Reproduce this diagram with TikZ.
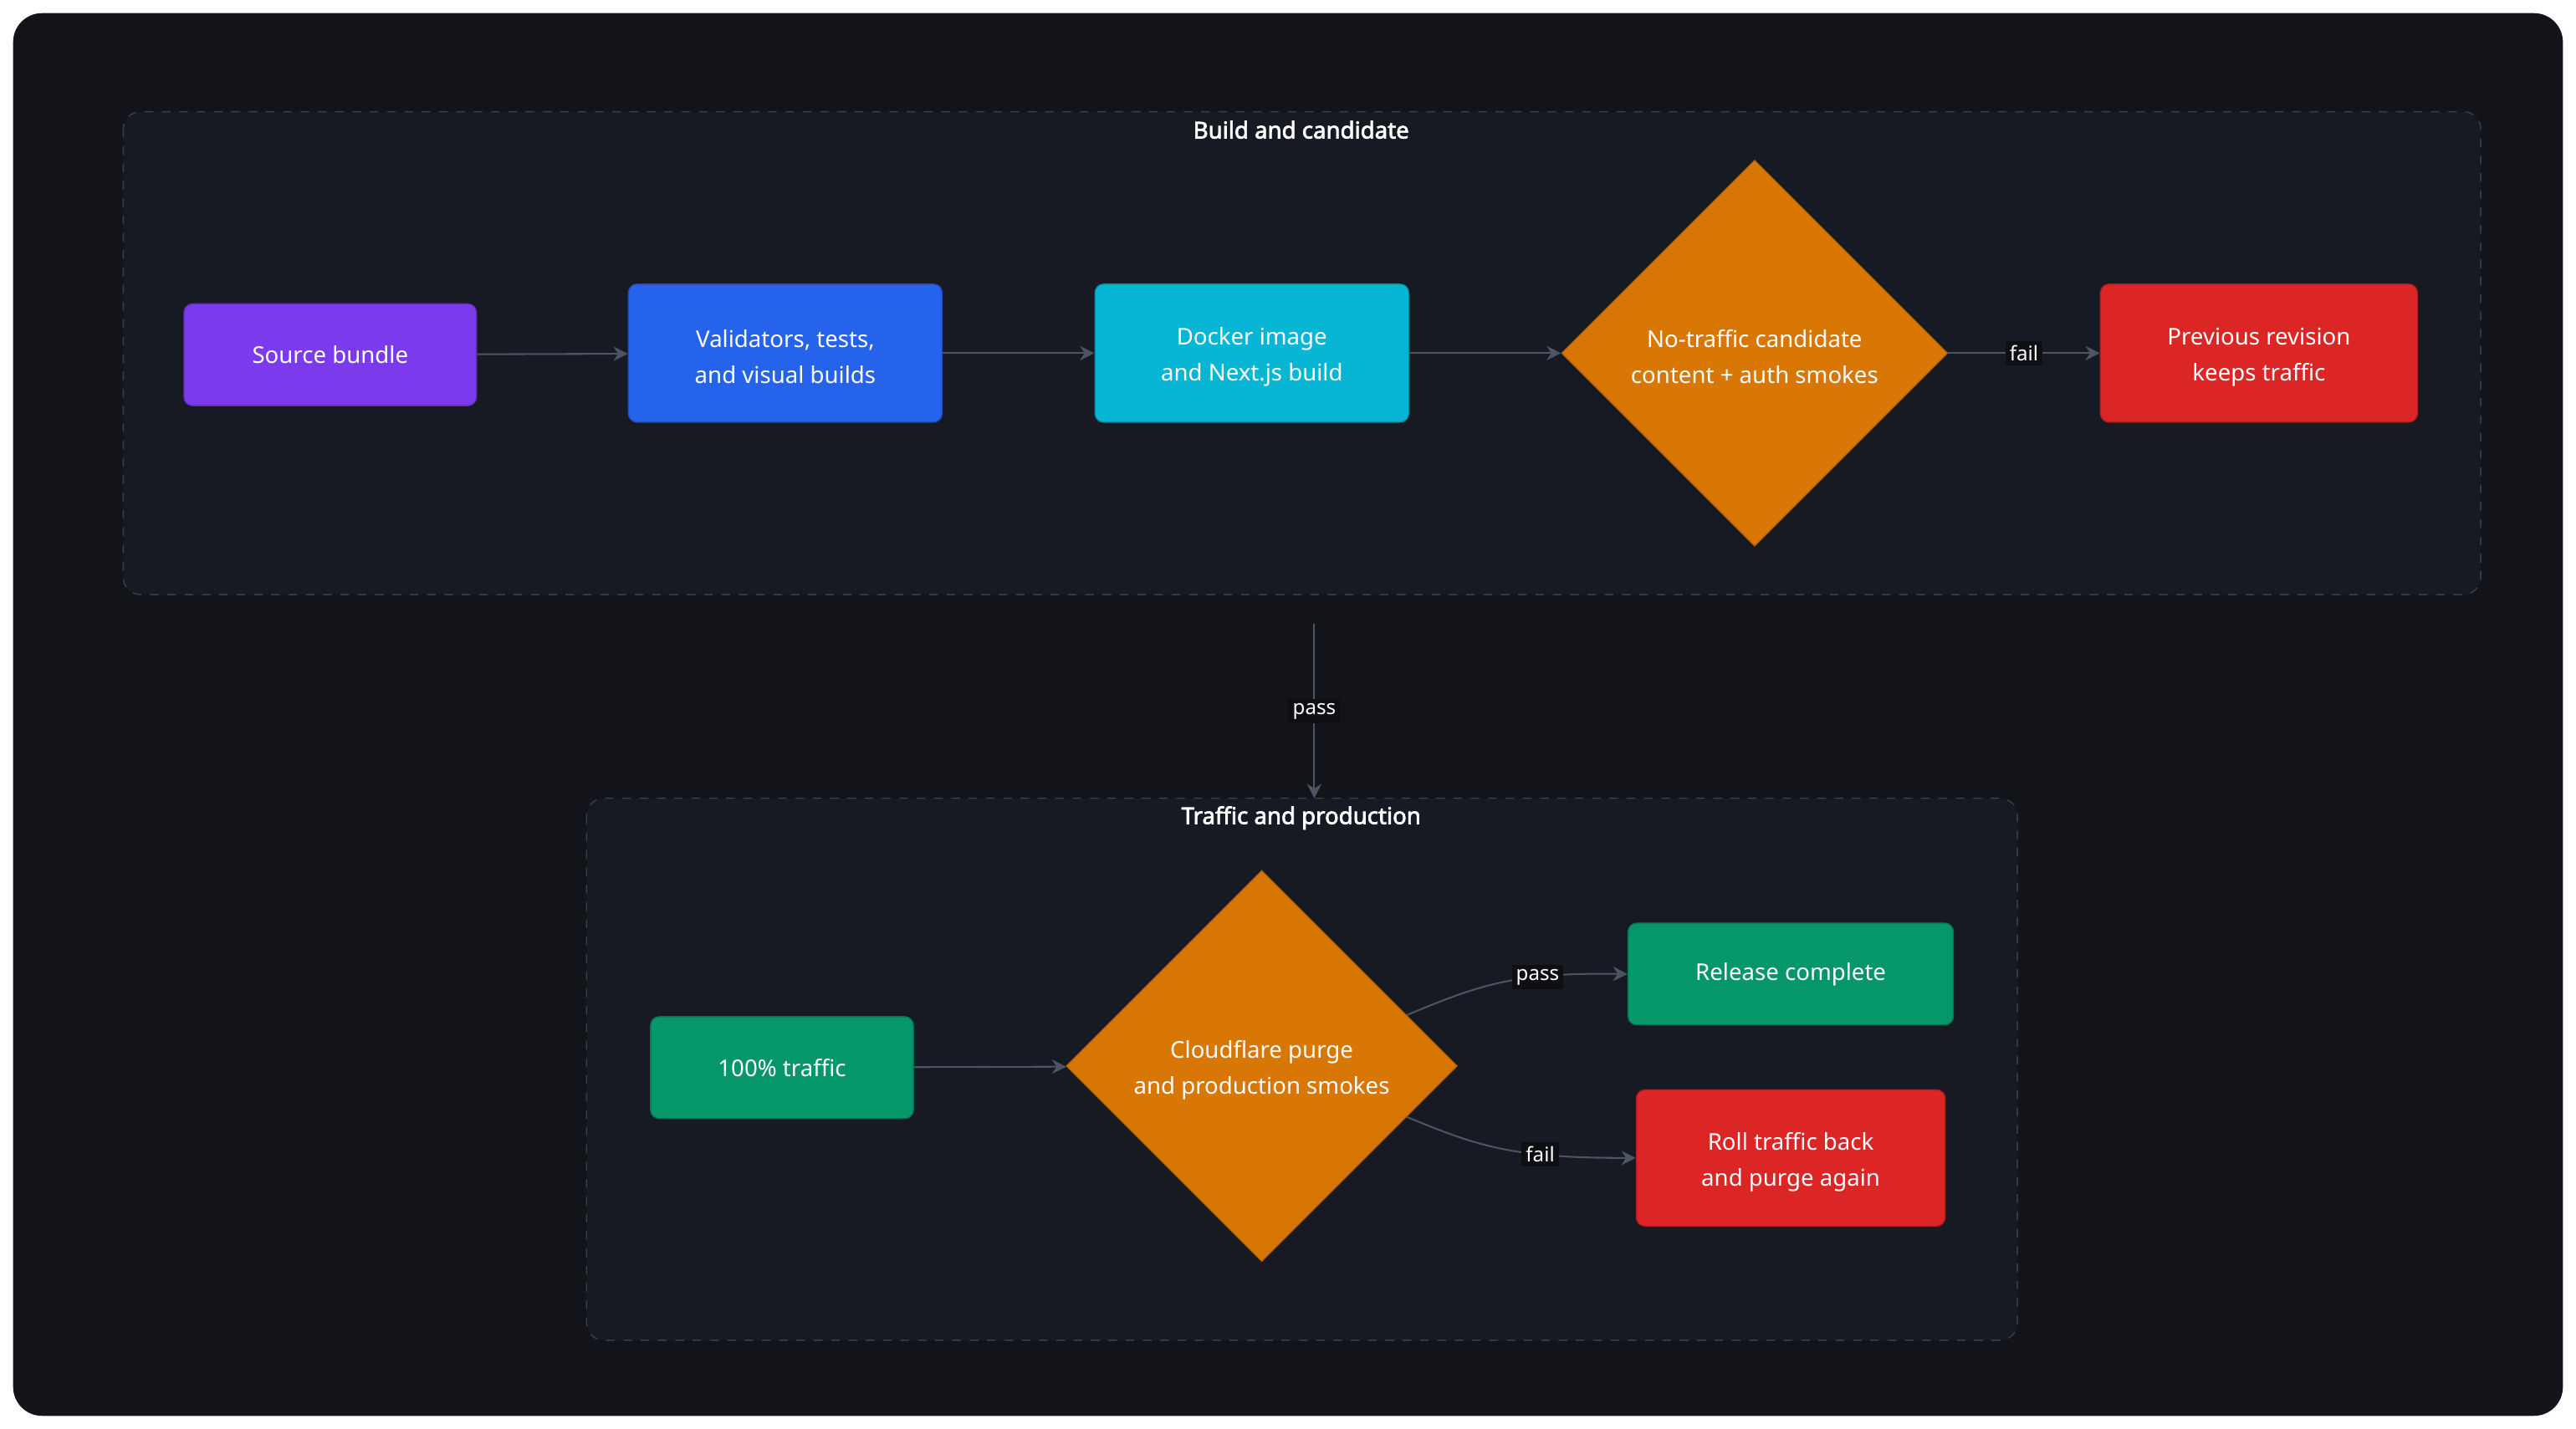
\documentclass[tikz,border=0pt]{standalone}
\usepackage{fontspec}
\setmainfont{Noto Sans}
\newfontfamily\titlefont{Noto Sans}[FakeBold=2.5]
\usetikzlibrary{shapes.geometric,calc,arrows.meta}
\definecolor{pagebg}{HTML}{FFFFFF}
\definecolor{canvas}{HTML}{121419}
\definecolor{groupbg}{HTML}{171923}
\definecolor{groupline}{HTML}{3A3F4B}
\definecolor{edgecol}{HTML}{4B5563}
\definecolor{labelbg}{HTML}{0E0F13}
\definecolor{cpurple}{HTML}{7C3AED}
\definecolor{cblue}{HTML}{2563EB}
\definecolor{ccyan}{HTML}{06B6D4}
\definecolor{corange}{HTML}{D97706}
\definecolor{cred}{HTML}{DC2626}
\definecolor{cgreen}{HTML}{059669}
\tikzset{>={Stealth[length=5pt,width=5pt]}}

\begin{document}
\begin{tikzpicture}[x=0.02cm,y=-0.02cm,
  every node/.style={font=\fontsize{8}{12.5}\selectfont, text=white},
  box/.style={draw=#1!80!black, fill=#1, rounded corners=3pt, align=center, inner sep=0pt},
  decision/.style={diamond, aspect=1, draw=corange!85!black, fill=corange, align=center,
    minimum size=4.7cm, inner sep=0pt},
  group/.style={draw=groupline, dashed, fill=groupbg, rounded corners=6pt},
  flow/.style={->, draw=edgecol, line width=0.6pt},
  tag/.style={fill=labelbg, inner sep=1.5pt, font=\fontsize{7}{8}\selectfont}]
  % canvas
  \fill[pagebg] (0,0) rectangle (1568,870);
  \fill[canvas, rounded corners=10pt] (8,8) rectangle (1560,862);
  % groups
  \draw[group] (75,68) rectangle (1510,362);
  \node[font=\titlefont\fontsize{8}{10}\selectfont] (gtop) at (792,79) {Build and candidate};
  \draw[group] (357,486) rectangle (1228,816);
  \node[font=\titlefont\fontsize{8}{10}\selectfont] (gbot) at (792,498) {Traffic and production};
  \coordinate (gin) at (800,486);
  \coordinate (gout) at (800,380);
  % nodes
  \node[box=cpurple, minimum width=3.56cm, minimum height=1.24cm] (src) at (201,216) {Source bundle};
  \node[box=cblue, minimum width=3.82cm, minimum height=1.68cm] (val) at ($(478,215)$) {\strut Validators, tests,\\and visual builds};
  \node[box=ccyan, minimum width=3.82cm, minimum height=1.68cm] (dock) at (762,215) {\strut Docker image\\and Next.js build};
  \node[decision] (cand) at (1068,215) {\strut No-traffic candidate\\content + auth smokes};
  \node[box=cred, minimum width=3.86cm, minimum height=1.68cm] (prev) at (1375,215) {\strut Previous revision\\keeps traffic};
  \node[box=cgreen, minimum width=3.2cm, minimum height=1.24cm] (full) at (476,650) {100\% traffic};
  \node[decision, minimum size=4.76cm] (purge) at (768,649) {\strut Cloudflare purge\\and production smokes};
  \node[box=cgreen, minimum width=3.96cm, minimum height=1.24cm] (done) at (1090,593) {Release complete};
  \node[box=cred, minimum width=3.76cm, minimum height=1.66cm] (roll) at (1090,705) {\strut Roll traffic back\\and purge again};
  % edges
  \draw[flow] (src) -- (val);
  \draw[flow] (val) -- (dock);
  \draw[flow] (dock) -- (cand);
  \draw[flow] (cand) -- node[tag] {fail} (prev);
  \draw[flow] (gout) -- node[tag] {pass} (gin);
  \draw[flow] (full) -- (purge);
  \draw[flow] ($(purge.east)!0.26!(purge.north)$) .. controls (900,600) and (920,592) .. node[tag, pos=0.68] {pass} (done.west);
  \draw[flow] ($(purge.east)!0.26!(purge.south)$) .. controls (900,698) and (920,705) .. node[tag, pos=0.68] {fail} (roll.west);
\end{tikzpicture}
\end{document}
